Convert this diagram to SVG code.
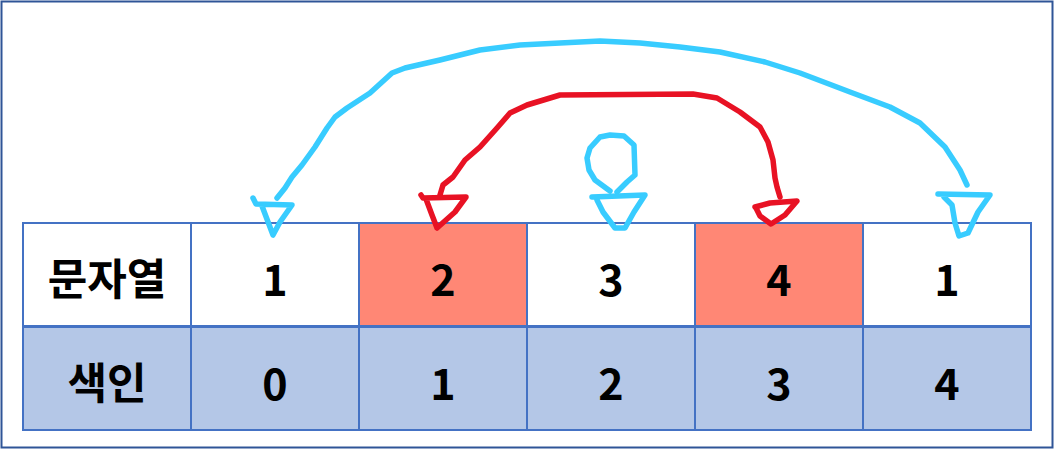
<svg xmlns="http://www.w3.org/2000/svg" width="1054" height="449" viewBox="0 0 1054 449">
<style>
.frame{fill:#fff;stroke:#2F5597;stroke-width:2}
.cell{stroke:#4472C4;stroke-width:2}
.w{fill:#fff}
.r{fill:#FF8775}
.b{fill:#B4C7E7}
.t{font-family:"Noto Sans CJK KR","Noto Sans",sans-serif;font-size:43px;fill:#000;text-anchor:middle;dominant-baseline:central}
.lbl{font-weight:700}
.num{font-weight:700}
.blue{fill:none;stroke:#38CCFF;stroke-width:5.5;stroke-linecap:round;stroke-linejoin:round}
.red{fill:none;stroke:#E81224;stroke-width:5.5;stroke-linecap:round;stroke-linejoin:round}
</style>
<rect class="frame" x="1.5" y="1.5" width="1051" height="446"/>
<g id="table">
<g id="row-string">
<rect class="cell w" x="23" y="223" width="168" height="103"/>
<rect class="cell w" x="191" y="223" width="168" height="103"/>
<rect class="cell r" x="359" y="223" width="168" height="103"/>
<rect class="cell w" x="527" y="223" width="168" height="103"/>
<rect class="cell r" x="695" y="223" width="168" height="103"/>
<rect class="cell w" x="863" y="223" width="168" height="103"/>
<text class="t lbl" x="107" y="276">문자열</text>
<text class="t num" x="275" y="277">1</text>
<text class="t num" x="443" y="277">2</text>
<text class="t num" x="611" y="277">3</text>
<text class="t num" x="779" y="277">4</text>
<text class="t num" x="947" y="277">1</text>
</g>
<g id="row-index">
<rect class="cell b" x="23" y="327" width="168" height="103"/>
<rect class="cell b" x="191" y="327" width="168" height="103"/>
<rect class="cell b" x="359" y="327" width="168" height="103"/>
<rect class="cell b" x="527" y="327" width="168" height="103"/>
<rect class="cell b" x="695" y="327" width="168" height="103"/>
<rect class="cell b" x="863" y="327" width="168" height="103"/>
<line x1="23" y1="326.5" x2="1031" y2="326.5" stroke="#4472C4" stroke-width="3"/>
<text class="t lbl" x="107" y="380">색인</text>
<text class="t num" x="275" y="381">0</text>
<text class="t num" x="443" y="381">1</text>
<text class="t num" x="611" y="381">2</text>
<text class="t num" x="779" y="381">3</text>
<text class="t num" x="947" y="381">4</text>
</g>
</g>
<g id="connectors">
<g id="blue-arc">
<path class="blue" d="M967,185 L960,170 L945,147 L920,123 L890,107 L850,92 L800,73 L765,62 L720,52 L680,47 L640,43 L600,41 L560,43 L520,45 L480,50 L440,60 L405,68 L392,73 L370,93 L347,108 L335,117 L327,128 L315,147 L302,165 L292,177 L285,188 L277,198"/>
<path class="blue" d="M253,198 L256,204 L292,205 L280,222 L273,235 L262,206"/>
<path class="blue" d="M938,194 L990,195 L978,212 L968,233 L959,236 L955,223 L952,205 L944,197"/>
</g>
<g id="blue-loop">
<path class="blue" d="M617,192 L627,182 L635,175 L634,145 L624,136 L610,135 L600,137 L590,148 L587,158 L589,170 L595,180 L610,191"/>
<path class="blue" d="M592,197 L645,195 L634,212 L625,228 L615,228 L603,212 L597,200"/>
</g>
<g id="red-arc">
<path class="red" d="M440,195 L443,185 L453,177 L465,160 L480,147 L497,128 L510,113 L527,105 L560,95 L693,94 L717,98 L740,112 L760,127 L768,142 L773,160 L775,178 L777,187 L780,197"/>
<path class="red" d="M421,195 L423,198 L466,197 L455,212 L437,228 L432,215 L426,199"/>
<path class="red" d="M755,207 L770,203 L797,201 L785,215 L771,224 L760,216 L756,208"/>
</g>
</g>
</svg>
